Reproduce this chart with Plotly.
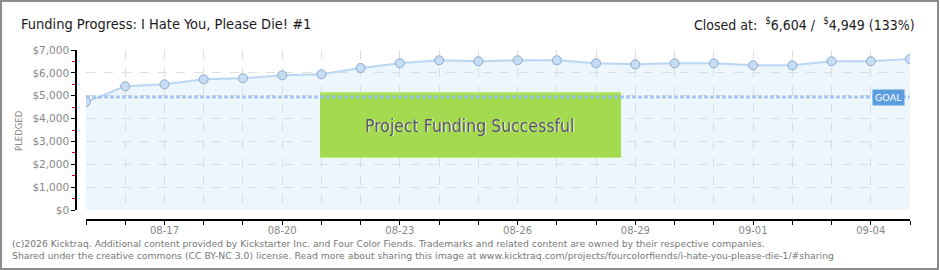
import plotly.graph_objects as go

# ---- data ----
dates = ["2014-08-15", "2014-08-16", "2014-08-17", "2014-08-18", "2014-08-19", "2014-08-20",
         "2014-08-21", "2014-08-22", "2014-08-23", "2014-08-24", "2014-08-25", "2014-08-26",
         "2014-08-27", "2014-08-28", "2014-08-29", "2014-08-30", "2014-08-31", "2014-09-01",
         "2014-09-02", "2014-09-03", "2014-09-04", "2014-09-05"]
pledged = [4725, 5412, 5499, 5718, 5762, 5893, 5937, 6212, 6418, 6549, 6506, 6549,
           6549, 6418, 6374, 6418, 6418, 6331, 6331, 6506, 6506, 6604]
goal = 4949
y_tickvals = [0, 1000, 2000, 3000, 4000, 5000, 6000, 7000]
y_ticktext = ["$0", "$1,000", "$2,000", "$3,000", "$4,000", "$5,000", "$6,000", "$7,000"]
y_minorvals = [500, 1500, 2500, 3500, 4500, 5500, 6500]

title_text = "Funding Progress: I Hate You, Please Die! #1"
closed_text = "Closed at:  <sup>$</sup>6,604 /  <sup>$</sup>4,949 (133%)"
status_text = "Project Funding Successful"
footer1 = ("(c)2026 Kicktraq. Additional content provided by Kickstarter Inc. and Four Color Fiends. "
           "Trademarks and related content are owned by their respective companies.")
footer2 = ("Shared under the creative commons (CC BY-NC 3.0) license. Read more about sharing this image at "
           "www.kicktraq.com/projects/fourcolorfiends/i-hate-you-please-die-1/#sharing")

# ---- geometry (pixels) ----
W, H = 940, 270
PL, PR, PT, PB = 76, 910, 50, 220


def px(x):
    return (x - PL) / (PR - PL)


def py(y):
    return (PB - y) / (PB - PT)


NARROW = "DejaVu Sans Condensed, sans-serif"
AX = "DejaVu Sans, sans-serif"

fig = go.Figure()
fig.add_trace(go.Scatter(
    x=dates, y=pledged, mode="lines+markers",
    line=dict(color="#b9d6f4", width=2),
    fill="tozeroy", fillcolor="rgba(190,218,248,0.27)",
    marker=dict(size=9, color="#c6ddf6", line=dict(color="#8ea9c9", width=1)),
    hoverinfo="skip", showlegend=False,
))
# invisible companion trace so the offset date axis is drawn
fig.add_trace(go.Scatter(
    x=dates, y=pledged, xaxis="x2", yaxis="y", mode="markers",
    marker=dict(opacity=0), hoverinfo="skip", showlegend=False,
))

shapes = []
# success box
shapes.append(dict(type="rect", xref="paper", yref="paper", x0=px(320), x1=px(621), y0=py(158), y1=py(92),
                   fillcolor="#a4da4f", line=dict(width=0), layer="above"))
shapes.append(dict(type="line", xref="paper", yref="paper", x0=px(320), x1=px(621), y0=py(157.5), y1=py(157.5),
                   line=dict(color="#c3ec86", width=1), layer="above"))
# goal line (drawn faintly over the box top, as in the reference)
shapes.append(dict(type="line", xref="x", yref="y", x0=dates[0], x1=dates[-1], y0=goal, y1=goal,
                   line=dict(color="rgba(150,192,236,0.85)", width=3, dash="4px,2px"), layer="above"))
shapes.append(dict(type="line", xref="paper", yref="paper", x0=px(320), x1=px(621), y0=py(93), y1=py(93),
                   line=dict(color="rgba(195,236,134,0.6)", width=2), layer="above"))
# outer frame
shapes.append(dict(type="rect", xref="paper", yref="paper", x0=px(1), x1=px(W - 2), y0=py(H - 1), y1=py(1),
                   line=dict(color="#8c8c8c", width=2), fillcolor="rgba(0,0,0,0)", layer="above"))

ann = []
ann.append(dict(text=title_text, xref="paper", yref="paper", x=px(19), y=py(24), xanchor="left",
                yanchor="middle", showarrow=False, font=dict(family=NARROW, size=14.5, color="#1a1a1a")))
ann.append(dict(text=closed_text, xref="paper", yref="paper", x=px(917), y=py(24), xanchor="right",
                yanchor="middle", showarrow=False, font=dict(family=NARROW, size=14, color="#1a1a1a")))
ann.append(dict(text="PLEDGED", xref="paper", yref="paper", x=px(19), y=py(130), textangle=-90,
                xanchor="center", yanchor="middle", showarrow=False,
                font=dict(family=AX, size=8.5, color="#888")))
ann.append(dict(text=status_text, xref="paper", yref="paper", x=px(470), y=py(126.5), xanchor="center",
                yanchor="middle", showarrow=False, font=dict(family=NARROW, size=17.5, color="#ffffff")))
ann.append(dict(text=status_text, xref="paper", yref="paper", x=px(469), y=py(125.5), xanchor="center",
                yanchor="middle", showarrow=False, font=dict(family=NARROW, size=17.5, color="#555555")))
ann.append(dict(text="GOAL", xref="paper", yref="paper", x=px(888), y=py(97), xanchor="center",
                yanchor="middle", showarrow=False, bgcolor="#5b9ee0", borderpad=2,
                font=dict(family=AX, size=9.5, color="#ffffff")))
ann.append(dict(text=footer1, xref="paper", yref="paper", x=px(10), y=py(243), xanchor="left",
                yanchor="middle", showarrow=False, font=dict(family=AX, size=9.25, color="#777")))
ann.append(dict(text=footer2, xref="paper", yref="paper", x=px(10), y=py(256), xanchor="left",
                yanchor="middle", showarrow=False, font=dict(family=AX, size=9.3, color="#777")))

xrange_ = [dates[0], dates[-1]]
xdomain = [px(86), 1]

fig.update_layout(
    width=W, height=H,
    margin=dict(l=PL, r=W - PR, t=PT, b=H - PB, pad=0),
    paper_bgcolor="white", plot_bgcolor="white",
    shapes=shapes, annotations=ann, showlegend=False,
    # data axis: gridlines only
    xaxis=dict(
        type="date", range=xrange_, domain=xdomain, anchor="y",
        showline=False, ticks="", showticklabels=False,
        tick0="2014-08-17", dtick=3 * 86400000,
        showgrid=True, gridcolor="#dedede", griddash="dash", gridwidth=1,
        minor=dict(dtick=86400000, tick0=dates[0], showgrid=True, gridcolor="#dedede", griddash="dash"),
        zeroline=False, fixedrange=True,
    ),
    # offset axis line with ticks and labels
    xaxis2=dict(
        type="date", range=xrange_, domain=xdomain, overlaying="x",
        anchor="free", position=0, side="bottom",
        showline=True, linecolor="#000", linewidth=1.5,
        ticks="outside", ticklen=4, tickcolor="#000", tickwidth=1,
        tick0="2014-08-17", dtick=3 * 86400000, tickformat="%m-%d",
        tickfont=dict(family=AX, size=10, color="#888"),
        ticklabelstandoff=-3,
        showgrid=False,
        minor=dict(dtick=86400000, tick0=dates[0], ticks="outside", ticklen=4, tickcolor="#000",
                   showgrid=False),
        zeroline=False, fixedrange=True,
    ),
    yaxis=dict(
        range=[0, 7000], domain=[py(210), 1],
        anchor="free", position=0,
        showline=True, linecolor="#000", linewidth=1.5,
        tickmode="array", tickvals=y_tickvals, ticktext=y_ticktext,
        ticks="outside", ticklen=4, tickcolor="#000",
        tickfont=dict(family=AX, size=10.5, color="#888"),
        showgrid=True, gridcolor="#dedede", griddash="dash",
        minor=dict(tickmode="array", tickvals=y_minorvals, ticks="outside", ticklen=3,
                   tickcolor="#e00000", showgrid=False),
        zeroline=False, fixedrange=True,
    ),
)

fig.write_html("out.html")
